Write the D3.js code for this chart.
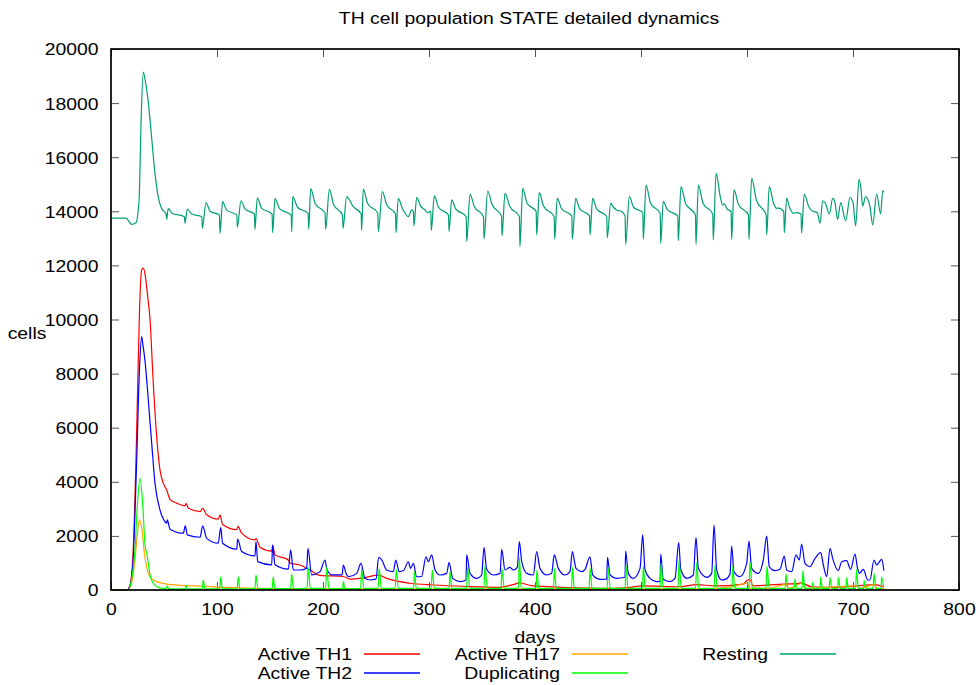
<!DOCTYPE html>
<html>
<head>
<meta charset="utf-8">
<script src="https://cdn.jsdelivr.net/npm/d3@7"></script>
<style>
  body { margin: 0; background: #fff; }
  text { font-family: "Liberation Sans", Arial, sans-serif; font-size: 17px; fill: #000; }
</style>
</head>
<body>
<div id="visContainer"></div>
<script>
'use strict';

// tick values for both axes
const xTicks = [0, 100, 200, 300, 400, 500, 600, 700, 800];
const yTicks = [0, 2000, 4000, 6000, 8000, 10000, 12000, 14000, 16000, 18000, 20000];

// legend names, in gnuplot plotting order
const seriesNames = ["Active TH1", "Active TH2", "Active TH17", "Duplicating", "Resting"];

// [day, cells] readings for each series
const th1Pts = [[0,0],[15,0],[18,200],[21,1500],[24,5500],[27,10500],[29,11850],[30.5,11900],[32,11700],[34.5,10900],
  [36.8,10000],[39.9,7640],[43.1,5670],[46.2,4440],[49.3,3950],[52.5,3700],[55.7,3350],[62,3210],[69.8,3110],[70.8,3200],
  [72.9,3030],[84,2900],[86.5,3020],[90.3,2780],[101.2,2620],[102.8,2780],[105.3,2420],[118.6,2230],[119.8,2350],[123.3,2100],
  [135.8,1850],[136.8,1900],[140.6,1580],[151.6,1440],[152.5,1650],[154.7,1300],[167.3,1110],[168.9,1000],[178.3,925],[187.7,740],
  [197.2,540],[219.2,500],[225.5,400],[238,450],[252.5,550],[260.1,430],[282.1,250],[304,185],[335.6,130],[367,100],
  [379.5,200],[385.2,260],[398.4,150],[461.3,60],[485,80],[502,150],[536.8,120],[552.5,200],[569.8,150],[596.5,220],
  [599.7,345],[602.8,380],[605.8,150],[635.2,220],[646.9,230],[650.9,260],[661,120],[680,100],[703,150],[720,200],[729,120]];

const th2Pts = [[0,0],[15,0],[18,150],[21,1200],[24,4500],[27,8300],[28.9,9370],[30,9100],[32,8500],[35.2,7030],
  [38.4,5420],[41.5,3950],[46.2,2960],[50.9,2530],[52.5,2470],[53.1,2590],[55.7,2250],[68.2,2100],[70.1,2370],[72,2040],
  [84,1950],[86.5,2370],[90.3,1910],[101.2,1730],[103.5,2310],[105.3,1730],[118.6,1510],[119.5,1880],[123.3,1420],[135.8,1260],
  [136.8,1790],[138.4,1050],[151.6,930],[152.5,1670],[154.7,930],[167.3,770],[169.5,1480],[172,740],[178.3,740],[184.6,800],
  [185.8,1540],[189.3,560],[197.2,680],[201.9,1110],[203.5,800],[208.2,560],[218,560],[219.2,925],[221.7,615],[224,490],
  [231.8,615],[235.8,985],[239.6,430],[244.3,370],[250,400],[252.5,1210],[255.4,1110],[260.1,740],[266.4,680],[268.6,1110],
  [272,680],[276,720],[280.5,1045],[282.7,800],[285.2,985],[288.4,490],[293,500],[297.2,1230],[299.4,1045],[302.5,1295],
  [305.7,740],[310.4,555],[316.7,615],[318.9,1010],[322.4,430],[329.2,310],[334.9,370],[335.6,1295],[338.7,615],[345,430],
  [349.7,555],[351.9,1580],[354.4,765],[360.7,555],[367,615],[368.6,1505],[371.7,740],[376.4,840],[379.5,740],[383.3,840],
  [385.2,1785],[387.5,1045],[392.2,615],[398.4,555],[401.6,1415],[404.7,800],[411,555],[415.7,615],[418.2,1295],[422,800],
  [428.3,555],[433,680],[435.2,1415],[438.7,800],[444,680],[447.2,765],[451.9,1230],[454.4,555],[461.3,395],[467.6,400],
  [468.4,1210],[470.8,555],[477,430],[484.9,470],[485.5,1440],[488,615],[492.8,430],[499.1,800],[501.6,2035],[503.8,740],
  [508.5,430],[514.8,310],[518,320],[518.6,1330],[521,395],[527.4,310],[532.1,430],[535.6,1750],[537.5,765],[543.1,430],
  [549.4,555],[551.9,1935],[554.1,800],[562,470],[566.7,615],[568.9,2400],[571.4,740],[576.1,370],[580,400],[584,590],
  [585.5,1625],[587.7,680],[593.4,490],[599.7,985],[601.9,1810],[604.4,800],[610.7,615],[615.4,1110],[618.6,1995],[621,860],
  [626.4,715],[631.1,765],[635.2,1255],[637.4,740],[642.2,680],[646.2,1295],[649.4,1110],[651.5,1700],[654.7,985],[659.4,860],
  [664.2,1170],[669.5,1380],[672,925],[675.2,490],[678.3,1540],[680.8,1170],[686.1,715],[689.3,1045],[694,1085],[697.8,765],
  [701.9,1330],[704.1,840],[706,615],[709.7,765],[713.9,370],[716,370],[719.8,1110],[722.3,925],[727,1135],[729.2,715]];

const th17Pts = [[0,0],[16,0],[19,200],[22,900],[25,2100],[26.8,2590],[29.3,2220],[31.5,1360],[33.6,860],[36.8,490],
  [43.1,310],[52.5,220],[77.7,150],[109,100],[140.6,60],[200,40],[300,30],[400,30],[500,30],[560,40],
  [586,120],[600,250],[603,80],[620,60],[636,200],[640,60],[652,250],[656,60],[703,150],[706,50],[720,200],[723,50],[729,60]];

const dupPts = [[0,0],[16,0],[19,300],[22.6,1480],[24.8,3080],[27.4,4130],[29.9,3200],[32,1730],[34.3,1230],[36.8,560],
  [39.9,250],[46,80],[52,60],[53.1,150],[54.5,40],[70,40],[70.8,160],[72,40],[86,50],[87.1,370],
  [88.5,40],[102.5,50],[103.5,490],[105,40],[119,50],[120.1,490],[121.5,40],[135.8,60],[136.8,555],[138.5,50],
  [152,60],[153.1,490],[154.5,50],[169.5,60],[170.5,600],[172,50],[185,70],[186,850],[188,60],[202.5,60],
  [203.5,860],[205.5,60],[218.5,50],[219.2,310],[220.5,50],[235.5,60],[236.5,780],[238.5,60],[252,70],[253,800],
  [255,60],[268,70],[269.2,750],[271,60],[285.5,60],[286.2,680],[288,60],[302,60],[303.1,740],[305,60],
  [319,60],[319.8,680],[321.5,60],[335.5,60],[336.5,840],[338.5,60],[351.8,60],[352.8,900],[355,60],[368,60],
  [368.8,800],[371,60],[384.5,70],[385.2,1210],[387,70],[401,60],[401.8,740],[403.5,60],[417.5,60],[418.3,800],
  [420,60],[434.5,60],[435.3,840],[437,60],[451,60],[452,800],[453.8,60],[468,60],[469,840],[471,60],
  [485,60],[485.8,925],[487.8,60],[501.5,60],[502.2,890],[504,60],[518,60],[518.9,985],[521,60],[535,60],
  [535.8,1110],[538,60],[551.5,60],[552.5,1010],[554.5,60],[569,60],[569.8,925],[572,60],[585.8,60],[586.5,890],
  [588.5,60],[602,60],[602.8,1045],[605,60],[618,60],[618.8,880],[621,60],[636,60],[636.8,590],[638.5,60],
  [644.5,60],[645.3,400],[646.8,60],[652,60],[652.8,713],[654.5,60],[661,60],[661.9,270],[663,60],[669,60],
  [669.5,480],[671,60],[677.5,60],[678.3,460],[680,60],[685.5,60],[686.1,460],[688,60],[693.5,60],[694,460],
  [695.5,60],[702.5,60],[703.3,750],[705,60],[710,60],[710.6,345],[712,60],[719,60],[719.8,615],[721.5,60],
  [726.5,60],[727,480],[729,60]];

const restingPts = [[0,13750],[14,13750],[19.5,13520],[23.5,13580],[26.5,14420],[28.5,17500],[30.5,19150],[32,18900],[35,18100],[38.5,16650],
  [41.5,15400],[44.5,14550],[47.5,14120],[52,13900],
  [52.5,13700],[54,14110],[57.5,13930],[69.3,13800],[69.8,13560],[72,14085],[76,13900],[85.7,13800],
  [86.2,13370],[89.6,14320],[93.5,14000],[102.3,13860],[102.8,13190],[105.3,14360],[109,14050],[118.7,13860],
  [119.2,13410],[122.6,14390],[126.5,14080],[135.3,13900],[135.8,13330],[138,14500],[142,14120],[152,13900],
  [152.5,13210],[154.7,14470],[159,14100],[170,13860],[170.5,13250],[171.4,14540],[176,14150],[186,13925],
  [186.5,13335],[188.4,14840],[192.5,14300],[202,13925],[202.5,13340],[206,14810],[210,14250],[218.4,13860],
  [218.9,13370],[222.3,14540],[224.5,14450],[228,14200],[236,13900],[236.5,13300],[238,14825],[242,14300],
  [251.7,13925],[252.2,13250],[256,14730],[260,14250],[268.4,13900],[268.9,13210],[271,14480],[275,14100],
  [280.5,13800],[283.6,14050],[285.3,13980],[285.8,13460],[288.4,14520],[292,14200],[296.2,14050],[299,13950],
  [301.7,14000],[302.2,13290],[305,14570],[309,14150],[318.4,13860],[318.9,13250],[321.4,14420],[325,14100],
  [335.1,13800],[335.6,12880],[338.7,14640],[342.5,14200],[351.4,13800],[351.9,12970],[355.4,14750],[359.5,14250],
  [368.4,13830],[368.9,13100],[371.7,14665],[376,14200],[385.3,13800],[385.8,12690],[388.4,14850],[392.5,14300],
  [401.1,13990],[401.6,13125],[404,14690],[408,14200],[418.1,13800],[418.6,12975],[421,14480],[425,14100],
  [434.7,13830],[435.2,12975],[438.4,14480],[442,14100],[451.4,13830],[451.9,13125],[454.4,14480],[458,14100],
  [467.7,13800],[468.2,13025],[471.4,14295],[474,14150],[477,14050],[481.8,13990],[485,13830],[485.5,12780],
  [489,14540],[493,14150],[501.7,13950],[502.2,12970],[504.7,14970],[509,14300],[518.1,13925],[518.6,12815],
  [521,14360],[525,14050],[534.7,13830],[535.2,12915],[537.7,14910],[542,14300],[551.4,13860],[551.9,12780],
  [554.1,14970],[558.5,14300],[567.7,13900],[568.2,12940],[570.8,15400],[575,14500],[577,14230],[578.5,14280],
  [581,14100],[585,13990],[585.5,12965],[587.7,14790],[592,14250],[601.4,13860],[601.9,12965],[604.4,15220],
  [609,14400],[618.1,13860],[618.6,13125],[621,14910],[625,14300],[628,14110],[630,14120],[634.7,13990],
  [635.2,13210],[637.4,14480],[640.5,14100],[643.7,13925],[646,13950],[651,13900],[651.5,13190],[654,14640],
  [658,14200],[661,14025],[666.3,13950],[668.9,13560],[671.4,14390],[674,14300],[677.7,13900],[680.8,14480],
  [683,14330],[685.5,13700],[688.4,14320],[693.1,13650],[697.2,14520],[700,14330],[702.5,13460],[705.7,15185],
  [707.5,14850],[709.1,14200],[711.9,14540],[716,14170],[718.6,13500],[722.3,14640],[726.1,13900],[728,14760],
  [729.2,14700]];

// line colours, same order as the names
const seriesColors = ["#ff0000", "#0000ff", "#ffa500", "#00ff00", "#009e73"];
const seriesData = [th1Pts, th2Pts, th17Pts, dupPts, restingPts];

// gnuplot's text looks horizontally stretched, so every label is widened a bit
const SX = 1.14;

var svg = d3.select('#visContainer')
    .append('svg')
    .attr('width', 980)
    .attr('height', 685);

// plot box
var plot = {left: 111, right: 959, top: 49, bottom: 590};

var x = d3.scaleLinear().domain([0, 800]).range([plot.left, plot.right]);
var y = d3.scaleLinear().domain([0, 20000]).range([plot.bottom, plot.top]);

// helper that writes a stretched text label
function label(px, py, str, anchor) {
    return svg.append('text')
        .attr('transform', 'translate(' + px + ',' + py + ') scale(' + SX + ',1)')
        .attr('dy', '0.35em')
        .attr('text-anchor', anchor || 'middle')
        .text(str);
}

// axes with inward ticks, mirrored on top and right
var tickLen = 8;
function styleAxis(g) {
    g.select('.domain').remove();
    g.selectAll('.tick line').attr('stroke', '#555').attr('stroke-width', 1);
}

svg.append('g')
    .attr('transform', 'translate(0,' + plot.bottom + ')')
    .call(d3.axisBottom(x).tickValues(xTicks).tickSizeInner(-tickLen).tickSizeOuter(0).tickFormat(d3.format('d')))
    .call(styleAxis)
    .call(function(g) {
        g.selectAll('.tick text')
            .attr('font-family', null).attr('font-size', null)
            .attr('dy', '0.35em').attr('y', 19)
            .attr('transform', 'scale(' + SX + ',1)');
    });

svg.append('g')
    .attr('transform', 'translate(0,' + plot.top + ')')
    .call(d3.axisTop(x).tickValues(xTicks).tickSizeInner(-tickLen).tickSizeOuter(0).tickFormat(''))
    .call(styleAxis);

svg.append('g')
    .attr('transform', 'translate(' + plot.left + ',0)')
    .call(d3.axisLeft(y).tickValues(yTicks).tickSizeInner(-tickLen).tickSizeOuter(0).tickFormat(d3.format('d')))
    .call(styleAxis)
    .call(function(g) {
        g.selectAll('.tick text')
            .attr('font-family', null).attr('font-size', null)
            .attr('x', -12.5 / SX).attr('dy', '0.35em')
            .attr('transform', 'scale(' + SX + ',1)');
    });

svg.append('g')
    .attr('transform', 'translate(' + plot.right + ',0)')
    .call(d3.axisRight(y).tickValues(yTicks).tickSizeInner(-tickLen).tickSizeOuter(0).tickFormat(''))
    .call(styleAxis);

// one line per series, later ones on top like gnuplot
var line = d3.line()
    .x(function(d) { return x(d[0]); })
    .y(function(d) { return y(d[1]); })
    .curve(d3.curveMonotoneX);

svg.append('g').selectAll('path')
    .data(seriesData)
    .enter().append('path')
    .attr('d', line)
    .attr('fill', 'none')
    .attr('stroke', function(d, i) { return seriesColors[i]; })
    .attr('stroke-width', 1.2)
    .attr('stroke-linejoin', 'round');

// border
svg.append('rect')
    .attr('x', plot.left).attr('y', plot.top)
    .attr('width', plot.right - plot.left).attr('height', plot.bottom - plot.top)
    .attr('fill', 'none').attr('stroke', '#000').attr('stroke-width', 1.7);

// titles
label(529, 18, 'TH cell population STATE detailed dynamics');
label(27, 333, 'cells');
label(535, 637, 'days');

// legend: 3 columns of 2 rows, filled column by column
var keyTextX = [352, 560, 768];
var keyRowY = [654, 673];
seriesNames.forEach(function(name, i) {
    var col = Math.floor(i / 2), row = i % 2;
    var tx = keyTextX[col], ty = keyRowY[row];
    label(tx, ty, name, 'end');
    svg.append('line')
        .attr('x1', tx + 12).attr('x2', tx + 68)
        .attr('y1', ty).attr('y2', ty)
        .attr('stroke', seriesColors[i])
        .attr('stroke-width', 1.5);
});
</script>
</body>
</html>
